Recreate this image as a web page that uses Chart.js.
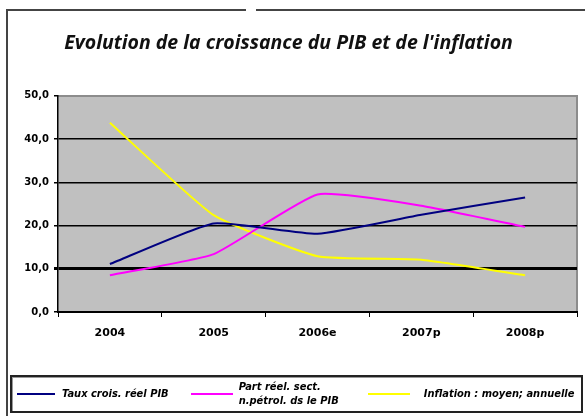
<!DOCTYPE html>
<html>
<head>
<meta charset="utf-8">
<script src="https://cdn.jsdelivr.net/npm/chart.js@4/dist/chart.umd.min.js"></script>
<style>
  body { margin: 0; background: #fff; }
  #wrap { position: relative; width: 585px; height: 416px; overflow: hidden; }
  #frame { position: absolute; left: 6px; top: 9px; right: 0; bottom: 0;
           border-left: 2px solid #444; border-top: 2px solid #444; }
  #gap { position: absolute; left: 246px; top: 7px; width: 10px; height: 6px; background: #fff; }
  canvas { position: absolute; left: 0; top: 0; }
  #legend { position: absolute; left: 10px; top: 375px; width: 573px; height: 38px;
            box-sizing: border-box; border: 2px solid #222; box-shadow: inset 1px 1px 0 #999;
            display: flex; align-items: center; padding-left: 5px;
            font: italic bold 11px "DejaVu Sans Condensed", sans-serif; color: #000; }
  .item { display: flex; align-items: center; }
  .swatch { height: 2px; }
  .txt { line-height: 14px; }
</style>
</head>
<body>
<div id="wrap">
  <div id="frame"></div>
  <div id="gap"></div>
  <canvas id="chart" width="585" height="416"></canvas>
  <div id="legend"></div>
</div>
<script>
// données
const years = ['2004', '2005', '2006e', '2007p', '2008p'];
const tauxCroissance = [11.1, 20.5, 18.1, 22.5, 26.5];
const partNonPetrol = [8.5, 13.4, 27.2, 24.6, 19.7];
const inflation = [43.8, 22.4, 12.9, 12.1, 8.5];

const seriesNames = [
    'Taux crois. réel  PIB',
    ['Part réel. sect.', 'n.pétrol. ds le PIB'],
    'Inflation : moyen; annuelle'
];
const seriesColors = ['#000080', '#ff00ff', '#ffff00'];

// mise en page de la légende (px)
const swatchWidths = [38, 42, 42];
const swatchGaps = [7, 6, 14];
const itemGaps = [22, 29, 0];

// fond gris de la zone de tracé
const plotBackground = {
    id: 'plotBackground',
    beforeDraw(chart) {
        const { ctx, chartArea: a } = chart;
        ctx.save();
        ctx.fillStyle = '#c0c0c0';
        ctx.fillRect(a.left, a.top, a.right - a.left, a.bottom - a.top);
        ctx.strokeStyle = '#8c8c8c';
        ctx.lineWidth = 2;
        ctx.beginPath();
        ctx.moveTo(a.left, a.top);
        ctx.lineTo(a.right, a.top);
        ctx.lineTo(a.right, a.bottom);
        ctx.stroke();
        ctx.restore();
    }
};

const datasets = [tauxCroissance, partNonPetrol, inflation].map((data, i) => ({
    label: Array.isArray(seriesNames[i]) ? seriesNames[i].join(' ') : seriesNames[i],
    data: data,
    borderColor: seriesColors[i],
    backgroundColor: seriesColors[i],
    borderWidth: 2,
    pointRadius: 0,
    tension: 0.15,
    fill: false
}));

new Chart(document.getElementById('chart'), {
    type: 'line',
    data: { labels: years, datasets: datasets },
    plugins: [plotBackground],
    options: {
        responsive: false,
        animation: false,
        layout: { padding: { left: 0, right: 8, top: 0, bottom: 74 } },
        plugins: {
            legend: { display: false },
            tooltip: { enabled: false },
            title: {
                display: true,
                text: "Evolution de la croissance du PIB et de l'inflation",
                color: '#111',
                font: { family: 'Open Sans', size: 19.5, style: 'italic', weight: '700' },
                padding: { top: 32, bottom: 40.5 }
            }
        },
        scales: {
            x: {
                offset: true,
                afterFit: scale => { scale.height = 30; },
                grid: { offset: true, drawOnChartArea: false, drawTicks: true, tickLength: 5, color: '#000' },
                border: { color: '#000', width: 2 },
                ticks: { color: '#000', padding: 10, maxRotation: 0,
                         font: { family: 'DejaVu Sans', size: 11, weight: 'bold' } }
            },
            y: {
                min: 0,
                max: 50,
                afterFit: scale => { scale.width = 58; },
                grid: {
                    drawTicks: true,
                    tickLength: 4,
                    tickColor: '#000',
                    color: ctx => ctx.tick && ctx.tick.value === 50 ? 'rgba(0,0,0,0)' : '#000',
                    lineWidth: ctx => ctx.tick && ctx.tick.value === 10 ? 3 : 1.5
                },
                border: { color: '#000', width: 1.5 },
                ticks: {
                    stepSize: 10,
                    color: '#000',
                    padding: 5,
                    font: { family: 'DejaVu Sans', size: 10, weight: 'bold' },
                    callback: v => v.toFixed(1).replace('.', ',')
                }
            }
        }
    }
});

// légende en bas
const legend = document.getElementById('legend');
seriesNames.forEach((name, i) => {
    const item = document.createElement('div');
    item.className = 'item';
    item.style.marginRight = itemGaps[i] + 'px';
    const lines = Array.isArray(name) ? name : [name];
    item.innerHTML = `
        <span class="swatch" style="background:${seriesColors[i]};width:${swatchWidths[i]}px;margin-right:${swatchGaps[i]}px"></span>
        <span class="txt">${lines.join('<br>')}</span>
    `;
    legend.appendChild(item);
});
</script>
</body>
</html>
